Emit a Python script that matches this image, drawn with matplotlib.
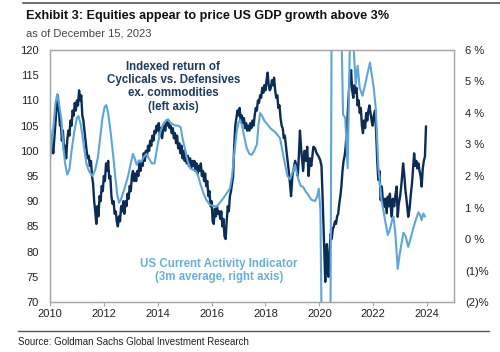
import numpy as np
import matplotlib
matplotlib.use("Agg")
from matplotlib import pyplot as plt
from matplotlib.lines import Line2D

plt.rcParams['font.family'] = ['Liberation Sans', 'DejaVu Sans']

NAVY = "#0B2C55"
LIGHT = "#5DA5DA"

# Cyclicals vs. Defensives ex. commodities, indexed (left axis)
cyc_t = [2010.00, 2010.04, 2010.08, 2010.12, 2010.17, 2010.21, 2010.25, 2010.29, 2010.33, 2010.37,
         2010.40, 2010.44, 2010.48, 2010.52, 2010.56, 2010.60, 2010.64, 2010.68, 2010.72, 2010.76,
         2010.80, 2010.84, 2010.88, 2010.92, 2010.96, 2011.00, 2011.04, 2011.08, 2011.12, 2011.16,
         2011.20, 2011.24, 2011.28, 2011.32, 2011.36, 2011.40, 2011.44, 2011.48, 2011.52, 2011.56,
         2011.60, 2011.64, 2011.68, 2011.72, 2011.76, 2011.80, 2011.84, 2011.88, 2011.92, 2011.96,
         2012.00, 2012.04, 2012.08, 2012.12, 2012.16, 2012.20, 2012.24, 2012.28, 2012.32, 2012.36,
         2012.40, 2012.44, 2012.48, 2012.52, 2012.56, 2012.60, 2012.64, 2012.68, 2012.72, 2012.76,
         2012.80, 2012.84, 2012.88, 2012.92, 2012.96, 2013.00, 2013.04, 2013.08, 2013.12, 2013.16,
         2013.20, 2013.24, 2013.28, 2013.32, 2013.36, 2013.40, 2013.44, 2013.48, 2013.52, 2013.56,
         2013.60, 2013.64, 2013.68, 2013.72, 2013.76, 2013.80, 2013.84, 2013.88, 2013.92, 2013.96,
         2014.00, 2014.04, 2014.08, 2014.12, 2014.16, 2014.20, 2014.24, 2014.28, 2014.32, 2014.36,
         2014.40, 2014.44, 2014.48, 2014.52, 2014.56, 2014.60, 2014.64, 2014.68, 2014.72, 2014.76,
         2014.80, 2014.84, 2014.88, 2014.92, 2014.96, 2015.00, 2015.04, 2015.08, 2015.12, 2015.16,
         2015.20, 2015.24, 2015.28, 2015.32, 2015.36, 2015.40, 2015.44, 2015.48, 2015.52, 2015.56,
         2015.60, 2015.64, 2015.68, 2015.72, 2015.76, 2015.80, 2015.84, 2015.88, 2015.92, 2015.96,
         2016.00, 2016.04, 2016.08, 2016.12, 2016.16, 2016.20, 2016.24, 2016.28, 2016.32, 2016.36,
         2016.40, 2016.44, 2016.48, 2016.52, 2016.56, 2016.60, 2016.64, 2016.68, 2016.72, 2016.76,
         2016.80, 2016.84, 2016.88, 2016.92, 2016.96, 2017.00, 2017.04, 2017.08, 2017.12, 2017.16,
         2017.20, 2017.24, 2017.28, 2017.32, 2017.36, 2017.40, 2017.44, 2017.48, 2017.52, 2017.56,
         2017.60, 2017.64, 2017.68, 2017.72, 2017.76, 2017.80, 2017.84, 2017.88, 2017.92, 2017.96,
         2018.00, 2018.04, 2018.08, 2018.12, 2018.16, 2018.20, 2018.24, 2018.28, 2018.32, 2018.36,
         2018.40, 2018.44, 2018.48, 2018.52, 2018.56, 2018.60, 2018.64, 2018.68, 2018.72, 2018.76,
         2018.80, 2018.85, 2018.91, 2018.95, 2019.00, 2019.05, 2019.10, 2019.15, 2019.20, 2019.24,
         2019.28, 2019.33, 2019.40, 2019.45, 2019.50, 2019.55, 2019.60, 2019.65, 2019.70, 2019.74,
         2019.78, 2019.84, 2019.90, 2019.96, 2020.03, 2020.08, 2020.12, 2020.16, 2020.20, 2020.22,
         2020.25, 2020.28, 2020.31, 2020.34, 2020.38, 2020.42, 2020.46, 2020.50, 2020.54, 2020.58,
         2020.62, 2020.66, 2020.70, 2020.74, 2020.78, 2020.82, 2020.86, 2020.90, 2020.94, 2020.98,
         2021.02, 2021.06, 2021.10, 2021.14, 2021.18, 2021.22, 2021.26, 2021.30, 2021.34, 2021.38,
         2021.42, 2021.46, 2021.50, 2021.54, 2021.58, 2021.62, 2021.66, 2021.70, 2021.74, 2021.78,
         2021.82, 2021.86, 2021.90, 2021.94, 2021.98, 2022.02, 2022.07, 2022.11, 2022.15, 2022.19,
         2022.23, 2022.28, 2022.32, 2022.36, 2022.40, 2022.44, 2022.50, 2022.54, 2022.58, 2022.62,
         2022.66, 2022.69, 2022.73, 2022.78, 2022.82, 2022.87, 2022.91, 2022.95, 2023.00, 2023.05,
         2023.11, 2023.15, 2023.20, 2023.24, 2023.30, 2023.35, 2023.40, 2023.44, 2023.48, 2023.52,
         2023.56, 2023.60, 2023.64, 2023.68, 2023.72, 2023.76, 2023.80, 2023.84, 2023.88, 2023.92,
         2023.96]
cyc_v = [104.0, 100.0, 102.0, 99.5, 103.0, 106.0, 109.0, 111.0, 108.0, 105.0,
         106.0, 102.0, 104.0, 100.0, 101.0, 98.5, 102.0, 104.0, 103.0, 106.0,
         105.0, 108.0, 107.0, 109.5, 108.0, 110.0, 109.0, 112.0, 110.0, 111.0,
         107.0, 106.0, 104.0, 102.0, 100.0, 98.5, 99.0, 97.0, 98.0, 95.0,
         93.5, 90.0, 88.0, 85.5, 89.0, 87.0, 91.0, 90.0, 93.0, 92.0,
         95.0, 94.0, 97.5, 96.0, 98.0, 94.5, 95.0, 91.0, 89.5, 90.0,
         87.5, 88.0, 86.0, 85.0, 87.0, 86.0, 89.0, 88.0, 90.0, 87.5,
         90.0, 89.0, 91.5, 90.5, 93.0, 92.0, 95.0, 96.0, 94.0, 95.5,
         94.0, 96.0, 95.0, 97.5, 96.0, 98.0, 97.0, 99.5, 98.0, 100.0,
         99.0, 101.0, 100.0, 102.0, 101.0, 103.0, 102.0, 104.0, 103.5, 105.0,
         104.0, 105.5, 103.0, 104.5, 102.5, 104.0, 105.0, 104.0, 106.0, 105.0,
         106.0, 104.5, 105.0, 103.5, 104.5, 102.5, 103.5, 101.5, 103.0, 100.5,
         101.5, 99.5, 101.0, 98.5, 100.0, 98.0, 99.5, 97.5, 99.0, 97.0,
         98.5, 96.5, 98.0, 97.0, 98.0, 96.0, 97.5, 95.5, 97.0, 96.0,
         97.5, 95.0, 96.0, 94.0, 95.5, 93.0, 94.0, 91.0, 92.0, 89.0,
         90.0, 86.0, 85.5, 88.5, 87.0, 89.0, 87.5, 88.0, 86.5, 88.0,
         85.0, 86.5, 83.0, 82.5, 86.0, 89.0, 88.0, 91.0, 92.0, 93.5,
         95.0, 101.0, 105.0, 106.5, 108.0, 107.0, 108.5, 106.0, 107.0, 105.5,
         106.5, 104.5, 105.5, 104.0, 105.0, 104.0, 105.5, 104.5, 106.0, 105.0,
         107.0, 108.5, 108.0, 110.0, 109.5, 111.0, 110.5, 112.5, 111.5, 113.0,
         112.0, 114.0, 115.5, 113.0, 112.0, 112.5, 114.0, 113.0, 114.5, 112.0,
         110.5, 111.0, 108.5, 109.0, 106.5, 105.0, 104.5, 102.5, 103.0, 101.0,
         99.0, 96.8, 93.5, 91.0, 95.0, 96.5, 98.0, 97.0, 95.0, 99.0,
         104.0, 100.0, 96.0, 100.0, 98.0, 100.8, 95.0, 98.5, 97.0, 99.0,
         100.8, 100.5, 99.5, 99.0, 98.2, 97.0, 91.0, 84.0, 77.0, 74.0,
         80.0, 81.5, 76.0, 75.0, 80.0, 83.5, 82.5, 84.5, 85.0, 86.0,
         85.5, 87.0, 87.5, 89.5, 91.0, 93.0, 96.0, 98.0, 99.0, 101.0,
         104.0, 108.0, 112.0, 114.5, 116.0, 112.0, 110.5, 113.0, 111.5, 112.5,
         109.0, 110.0, 107.5, 108.5, 105.0, 103.5, 106.0, 104.5, 107.5, 106.0,
         108.0, 109.0, 107.5, 106.0, 105.0, 107.0, 108.0, 103.5, 98.0, 94.2,
         96.0, 90.2, 92.9, 90.0, 88.9, 90.5, 87.6, 90.9, 89.0, 91.5,
         88.5, 86.9, 90.5, 89.0, 91.0, 92.9, 86.9, 89.5, 91.0, 93.5,
         97.5, 95.5, 92.0, 90.2, 86.9, 88.5, 91.5, 93.5, 96.5, 99.5,
         97.0, 98.0, 96.5, 97.5, 96.0, 95.0, 92.9, 96.5, 98.0, 98.8,
         104.8]

# US Current Activity Indicator, 3m average, % (right axis)
cai_t = [2010.00, 2010.06, 2010.12, 2010.20, 2010.27, 2010.35, 2010.42, 2010.50, 2010.56, 2010.64,
         2010.72, 2010.80, 2010.90, 2011.00, 2011.06, 2011.15, 2011.25, 2011.35, 2011.45, 2011.58,
         2011.68, 2011.78, 2011.86, 2011.94, 2012.03, 2012.09, 2012.16, 2012.25, 2012.34, 2012.42,
         2012.50, 2012.56, 2012.63, 2012.71, 2012.80, 2012.90, 2013.00, 2013.08, 2013.15, 2013.22,
         2013.30, 2013.39, 2013.48, 2013.58, 2013.68, 2013.78, 2013.88, 2014.00, 2014.10, 2014.20,
         2014.30, 2014.38, 2014.46, 2014.55, 2014.65, 2014.75, 2014.85, 2014.92, 2015.00, 2015.10,
         2015.20, 2015.30, 2015.42, 2015.50, 2015.60, 2015.70, 2015.80, 2015.94, 2016.05, 2016.19,
         2016.30, 2016.44, 2016.56, 2016.68, 2016.76, 2016.84, 2016.93, 2017.00, 2017.06, 2017.13,
         2017.20, 2017.30, 2017.40, 2017.49, 2017.58, 2017.68, 2017.74, 2017.80, 2017.88, 2017.96,
         2018.06, 2018.20, 2018.35, 2018.45, 2018.54, 2018.63, 2018.73, 2018.82, 2018.91, 2019.00,
         2019.10, 2019.22, 2019.30, 2019.40, 2019.50, 2019.59, 2019.70, 2019.84, 2019.92, 2019.98,
         2020.04, 2020.09, 2020.20, 2020.30, 2020.40, 2020.46, 2020.55, 2020.65, 2020.75, 2020.83,
         2020.88, 2020.96, 2021.05, 2021.14, 2021.20, 2021.28, 2021.35, 2021.42, 2021.50, 2021.60,
         2021.70, 2021.80, 2021.88, 2021.95, 2022.02, 2022.10, 2022.19, 2022.30, 2022.44, 2022.54,
         2022.62, 2022.70, 2022.75, 2022.82, 2022.91, 2022.98, 2023.06, 2023.12, 2023.20, 2023.30,
         2023.40, 2023.49, 2023.58, 2023.68, 2023.75, 2023.80, 2023.86, 2023.92]
cai_v = [2.5, 3.0, 3.5, 4.3, 4.6, 4.2, 3.8, 2.9, 2.4, 2.05,
         2.2, 2.8, 3.4, 3.85, 3.9, 3.6, 3.0, 2.4, 2.15, 2.0,
         2.2, 2.6, 3.2, 3.8, 4.2, 4.25, 4.0, 3.4, 2.7, 2.0,
         1.4, 1.15, 1.25, 1.45, 1.7, 2.0, 2.4, 2.7, 2.55, 2.35,
         2.5, 2.45, 2.6, 2.7, 2.55, 2.4, 2.4, 3.0, 3.4, 3.65,
         3.75, 3.8, 3.7, 3.65, 3.6, 3.6, 3.55, 3.2, 2.9, 2.5,
         2.25, 2.2, 2.15, 2.0, 1.7, 1.45, 1.25, 1.08, 1.05, 1.03,
         1.15, 1.3, 1.45, 1.6, 2.0, 2.7, 3.4, 3.7, 3.78, 3.6,
         3.3, 2.9, 2.7, 2.67, 2.8, 3.0, 3.6, 4.0, 3.9, 3.75,
         3.65, 3.5, 3.4, 3.3, 3.2, 2.8, 2.35, 2.0, 1.9, 2.1,
         2.35, 1.9, 1.7, 1.65, 1.5, 1.4, 1.25, 1.2, 1.35, 1.6,
         0.9, -3.0, -12.0, -14.0, -6.0, 8.0, 14.0, 12.0, 9.0, 6.2,
         3.95, 3.85, 2.25, 6.5, 7.0, 6.0, 4.9, 5.5, 4.8, 4.55,
         4.9, 5.3, 5.6, 5.2, 4.8, 4.1, 2.3, 1.3, 0.6, 0.13,
         0.3, 0.6, 0.71, 0.2, -0.95, -0.5, -0.1, 0.2, 0.1, -0.25,
         0.05, 0.35, 0.6, 0.85, 0.75, 0.6, 0.81, 0.72]

years = [2010, 2012, 2014, 2016, 2018, 2020, 2022, 2024]
left_ticks = [70, 75, 80, 85, 90, 95, 100, 105, 110, 115, 120]
right_ticks = [-2, -1, 0, 1, 2, 3, 4, 5, 6]
right_labels = ["(2)%", "(1)%", "0 %", "1 %", "2 %", "3 %", "4 %", "5 %", "6 %"]


fig = plt.figure(figsize=(5.0, 3.52), dpi=100)
ax1 = fig.add_axes([0.10, 0.142, 0.808, 0.716])
ax2 = ax1.twinx()

ax1.plot(cyc_t, cyc_v, color=NAVY, lw=1.7, solid_joinstyle="round")
ax2.plot(cai_t, cai_v, color=LIGHT, lw=1.5, solid_joinstyle="round")

ax1.set_xlim(2010, 2025)
ax1.set_ylim(70, 120)
ax2.set_ylim(-2, 6)
ax1.set_xticks(years)
ax1.set_yticks(left_ticks)
ax2.set_yticks(right_ticks)
ax2.set_yticklabels(right_labels)

for ax in (ax1, ax2):
    for s in ax.spines.values():
        s.set_color("#A6A6A6")
        s.set_linewidth(0.9)
ax1.tick_params(axis="x", length=3, width=0.8, color="#A6A6A6", labelsize=8, pad=2, labelcolor="#222222")
ax1.tick_params(axis="y", length=0, labelsize=8, pad=8, labelcolor="#222222")
ax2.tick_params(axis="y", length=0, labelsize=8, pad=8, labelcolor="#222222")

ax1.text(0.305, 0.955, "Indexed return of\nCyclicals vs. Defensives\nex. commodities\n(left axis)",
         transform=ax1.transAxes, ha="center", va="top", fontsize=8.3, fontweight="bold",
         color="#1B3A66", linespacing=1.12)
ax1.text(0.418, 0.175, "US Current Activity Indicator\n(3m average, right axis)",
         transform=ax1.transAxes, ha="center", va="top", fontsize=8.3, fontweight="bold",
         color="#6AADDD", linespacing=1.12)

fig.text(0.052, 0.955, "Exhibit 3: Equities appear to price US GDP growth above 3%",
         fontsize=9.1, fontweight="bold", color="#111111", va="center")
fig.text(0.052, 0.905, "as of December 15, 2023", fontsize=8, color="#444444", va="center")
fig.text(0.036, 0.028, "Source: Goldman Sachs Global Investment Research", fontsize=7,
         color="#222222", va="center")

fig.add_artist(Line2D([0.046, 1.0], [0.991, 0.991], transform=fig.transFigure,
                      color="#555555", lw=1.2))
fig.add_artist(Line2D([0.036, 0.978], [0.06, 0.06], transform=fig.transFigure,
                      color="#555555", lw=1.0))

fig.savefig("out.png", dpi=100)
